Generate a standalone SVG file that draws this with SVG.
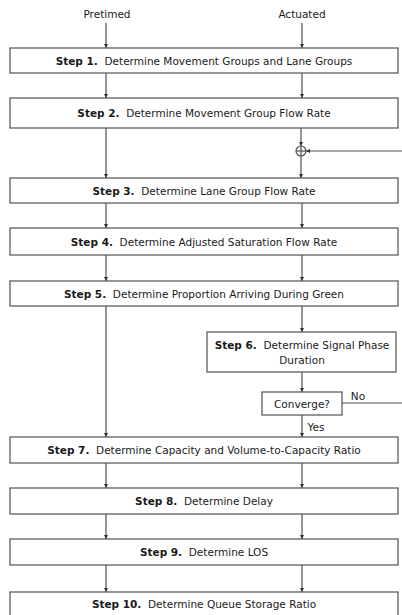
<svg xmlns="http://www.w3.org/2000/svg" width="402" height="615" viewBox="0 0 402 615">
<style>
.box{fill:#fff;stroke:#505050;stroke-width:1.2}
.t{font-family:"DejaVu Sans",Verdana,sans-serif;font-size:10.5px;fill:#1a1a1a;text-anchor:middle;white-space:pre}
.b{font-weight:bold}
.ln{stroke:#505050;stroke-width:1.2;fill:none}
</style>
<defs>
<marker id="ah" viewBox="0 0 6 6" refX="6" refY="3" markerWidth="4" markerHeight="4" orient="auto" markerUnits="userSpaceOnUse">
<path d="M0,0 L6,3 L0,6 z" fill="#303030"/>
</marker>
</defs>
<rect width="402" height="615" fill="#fff"/>
<text class="t" x="107" y="18">Pretimed</text>
<text class="t" x="302" y="18">Actuated</text>
<g id="connectors">
<line class="ln" x1="106" y1="23" x2="106" y2="48" marker-end="url(#ah)"/>
<line class="ln" x1="302" y1="23" x2="302" y2="48" marker-end="url(#ah)"/>
<line class="ln" x1="106" y1="73" x2="106" y2="98" marker-end="url(#ah)"/>
<line class="ln" x1="302" y1="73" x2="302" y2="98" marker-end="url(#ah)"/>
<line class="ln" x1="106" y1="128" x2="106" y2="178" marker-end="url(#ah)"/>
<line class="ln" x1="301" y1="128" x2="301" y2="146" marker-end="url(#ah)"/>
<line class="ln" x1="301" y1="156" x2="301" y2="178" marker-end="url(#ah)"/>
<line class="ln" x1="402" y1="151" x2="306" y2="151" marker-end="url(#ah)" stroke="#202020"/>
<line class="ln" x1="106" y1="203" x2="106" y2="228" marker-end="url(#ah)"/>
<line class="ln" x1="302" y1="203" x2="302" y2="228" marker-end="url(#ah)"/>
<line class="ln" x1="106" y1="255" x2="106" y2="281" marker-end="url(#ah)"/>
<line class="ln" x1="302" y1="255" x2="302" y2="281" marker-end="url(#ah)"/>
<line class="ln" x1="106" y1="306" x2="106" y2="437" marker-end="url(#ah)"/>
<line class="ln" x1="302" y1="306" x2="302" y2="332" marker-end="url(#ah)"/>
<line class="ln" x1="302" y1="372" x2="302" y2="392" marker-end="url(#ah)"/>
<line class="ln" x1="302" y1="415" x2="302" y2="437" marker-end="url(#ah)"/>
<line class="ln" x1="342" y1="403" x2="402" y2="403" stroke="#202020"/>
<line class="ln" x1="106" y1="463" x2="106" y2="488" marker-end="url(#ah)"/>
<line class="ln" x1="302" y1="463" x2="302" y2="488" marker-end="url(#ah)"/>
<line class="ln" x1="106" y1="514" x2="106" y2="539" marker-end="url(#ah)"/>
<line class="ln" x1="302" y1="514" x2="302" y2="539" marker-end="url(#ah)"/>
<line class="ln" x1="106" y1="565" x2="106" y2="592" marker-end="url(#ah)"/>
<line class="ln" x1="302" y1="565" x2="302" y2="592" marker-end="url(#ah)"/>
<text class="t" x="358" y="400">No</text>
<text class="t" x="316" y="431">Yes</text>
</g>
<g id="sum">
<circle cx="301" cy="151" r="5" class="ln" fill="#fff"/>
<line class="ln" x1="296" y1="151" x2="306" y2="151"/>
<line class="ln" x1="301" y1="146" x2="301" y2="156"/>
</g>
<g id="step1">
<rect class="box" x="10" y="48" width="388" height="25"/>
<text class="t" x="204" y="64.5" xml:space="preserve"><tspan class="b">Step 1.</tspan>  Determine Movement Groups and Lane Groups</text>
</g>
<g id="step2">
<rect class="box" x="10" y="98" width="388" height="30"/>
<text class="t" x="204" y="117" xml:space="preserve"><tspan class="b">Step 2.</tspan>  Determine Movement Group Flow Rate</text>
</g>
<g id="step3">
<rect class="box" x="10" y="178" width="388" height="25"/>
<text class="t" x="204" y="194.5" xml:space="preserve"><tspan class="b">Step 3.</tspan>  Determine Lane Group Flow Rate</text>
</g>
<g id="step4">
<rect class="box" x="10" y="228" width="388" height="27"/>
<text class="t" x="204" y="245.5" xml:space="preserve"><tspan class="b">Step 4.</tspan>  Determine Adjusted Saturation Flow Rate</text>
</g>
<g id="step5">
<rect class="box" x="10" y="281" width="388" height="25"/>
<text class="t" x="204" y="297.5" xml:space="preserve"><tspan class="b">Step 5.</tspan>  Determine Proportion Arriving During Green</text>
</g>
<g id="step6">
<rect class="box" x="207" y="332" width="189" height="40"/>
<text class="t" x="302" y="349" xml:space="preserve"><tspan class="b">Step 6.</tspan>  Determine Signal Phase</text>
<text class="t" x="302" y="364">Duration</text>
</g>
<g id="converge">
<rect class="box" x="262" y="392" width="80" height="23"/>
<text class="t" x="302" y="407.5">Converge?</text>
</g>
<g id="step7">
<rect class="box" x="10" y="437" width="388" height="26"/>
<text class="t" x="204" y="454" xml:space="preserve"><tspan class="b">Step 7.</tspan>  Determine Capacity and Volume-to-Capacity Ratio</text>
</g>
<g id="step8">
<rect class="box" x="10" y="488" width="388" height="26"/>
<text class="t" x="204" y="505" xml:space="preserve"><tspan class="b">Step 8.</tspan>  Determine Delay</text>
</g>
<g id="step9">
<rect class="box" x="10" y="539" width="388" height="26"/>
<text class="t" x="204" y="556" xml:space="preserve"><tspan class="b">Step 9.</tspan>  Determine LOS</text>
</g>
<g id="step10">
<rect class="box" x="10" y="592" width="388" height="30"/>
<text class="t" x="204" y="608" xml:space="preserve"><tspan class="b">Step 10.</tspan>  Determine Queue Storage Ratio</text>
</g>
</svg>
